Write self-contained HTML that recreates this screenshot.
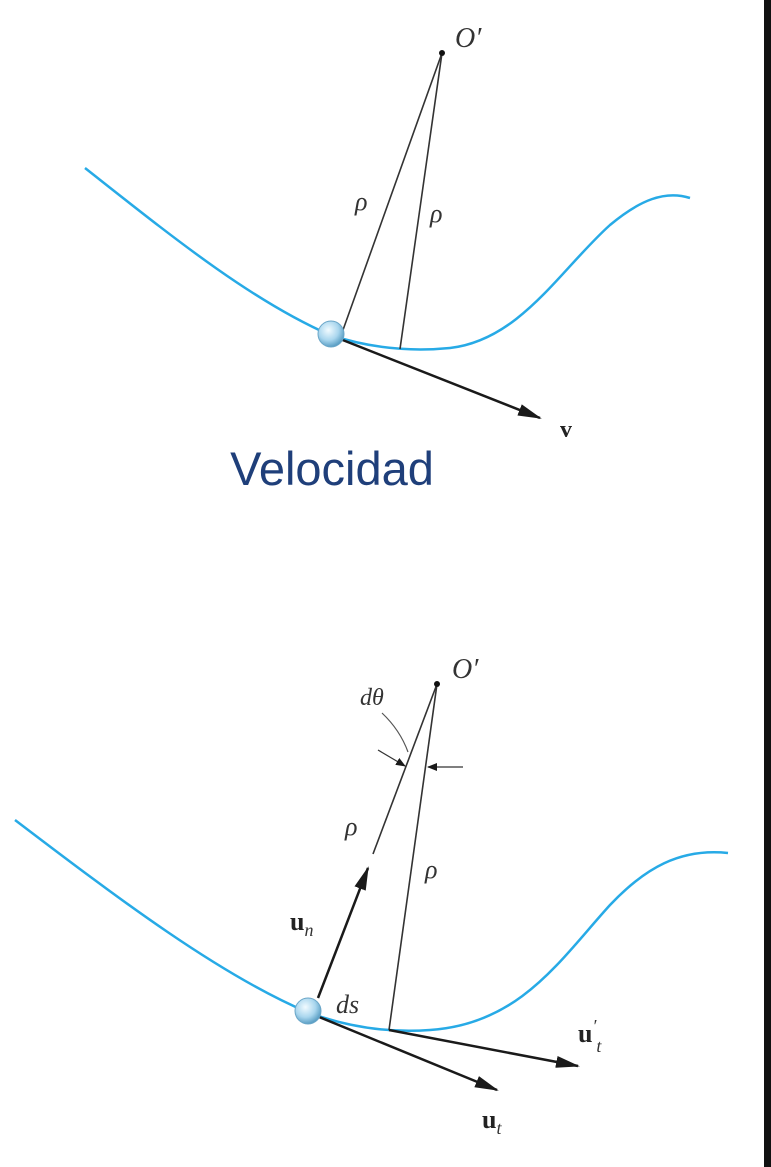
<!DOCTYPE html>
<html><head><meta charset="utf-8">
<style>
html,body{margin:0;padding:0;background:#fff;width:771px;height:1167px;overflow:hidden}
svg{display:block}
.it{font-family:"Liberation Serif",serif;font-style:italic;fill:#333}
.bd{font-family:"Liberation Serif",serif;font-weight:bold;fill:#222}
</style></head><body>
<svg width="771" height="1167" viewBox="0 0 771 1167">
<defs>
<marker id="ah" markerWidth="10" markerHeight="8" refX="9" refY="4" orient="auto" markerUnits="userSpaceOnUse" viewBox="0 0 10 8">
<path d="M0,0 L10,4 L0,8 Z" fill="#1a1a1a"/></marker>
<marker id="ahb" markerWidth="24" markerHeight="12" refX="22" refY="6" orient="auto" markerUnits="userSpaceOnUse" viewBox="0 0 24 12">
<path d="M0,0 L24,6 L0,12 Z" fill="#1a1a1a"/></marker>
<radialGradient id="ball" cx="40%" cy="35%" r="65%">
<stop offset="0" stop-color="#f2fbff"/><stop offset="0.6" stop-color="#a9d6ee"/><stop offset="1" stop-color="#5a9ec4"/></radialGradient>
</defs>
<rect x="764" y="0" width="7" height="1167" fill="#111"/>

<g>
<path d="M85,168 C170,235 250,300 330,335 C370,348 410,352 450,348 C520,340 560,270 610,225 C640,200 665,190 690,198" fill="none" stroke="#27aae6" stroke-width="2.5"/>
<line x1="442" y1="53" x2="343" y2="330" stroke="#333" stroke-width="1.6"/>
<line x1="442" y1="53" x2="400" y2="349" stroke="#333" stroke-width="1.6"/>
<circle cx="442" cy="53" r="3" fill="#111"/>
<text x="455" y="47" class="it" font-size="28">O′</text>
<text x="355" y="210" class="it" font-size="26">ρ</text>
<text x="430" y="222" class="it" font-size="26">ρ</text>
<line x1="330" y1="335" x2="540" y2="418" stroke="#1a1a1a" stroke-width="2.5" marker-end="url(#ahb)"/>
<text x="560" y="437" class="bd" font-size="24">v</text>
<circle cx="331" cy="334" r="13" fill="url(#ball)" stroke="#6aa6c8" stroke-width="1"/>
</g>
<text x="332" y="485" text-anchor="middle" font-family="Liberation Sans, sans-serif" font-size="47" fill="#1f3f7a">Velocidad</text>

<g>
<path d="M15,820 C120,900 220,975 307,1012 C350,1028 390,1033 430,1030 C520,1024 560,960 610,905 C645,868 680,848 728,853" fill="none" stroke="#27aae6" stroke-width="2.5"/>
<line x1="437" y1="684" x2="389" y2="1030" stroke="#333" stroke-width="1.6"/>
<line x1="437" y1="684" x2="373" y2="854" stroke="#333" stroke-width="1.6"/>
<circle cx="437" cy="684" r="3" fill="#111"/>
<text x="452" y="678" class="it" font-size="28">O′</text>
<text x="360" y="705" class="it" font-size="24">dθ</text>
<path d="M382,713 Q400,730 408,752" fill="none" stroke="#555" stroke-width="1.2"/>
<line x1="378" y1="750" x2="405" y2="766" stroke="#333" stroke-width="1.2" marker-end="url(#ah)"/>
<line x1="463" y1="767" x2="428" y2="767" stroke="#333" stroke-width="1.2" marker-end="url(#ah)"/>
<text x="345" y="835" class="it" font-size="26">ρ</text>
<text x="425" y="878" class="it" font-size="26">ρ</text>
<line x1="318" y1="998" x2="368" y2="868" stroke="#1a1a1a" stroke-width="2.5" marker-end="url(#ahb)"/>
<text x="290" y="930" class="bd" font-size="26">u<tspan class="it" font-weight="normal" font-size="18" dy="6">n</tspan></text>
<text x="336" y="1013" class="it" font-size="26">ds</text>
<line x1="307" y1="1012" x2="497" y2="1090" stroke="#1a1a1a" stroke-width="2.5" marker-end="url(#ahb)"/>
<text x="482" y="1128" class="bd" font-size="26">u<tspan class="it" font-weight="normal" font-size="18" dy="6">t</tspan></text>
<line x1="389" y1="1030" x2="578" y2="1066" stroke="#1a1a1a" stroke-width="2.5" marker-end="url(#ahb)"/>
<text x="578" y="1042" class="bd" font-size="26">u<tspan class="it" font-weight="normal" font-size="18" dy="-10">′</tspan><tspan class="it" font-weight="normal" font-size="18" dy="20">t</tspan></text>
<circle cx="308" cy="1011" r="13" fill="url(#ball)" stroke="#6aa6c8" stroke-width="1"/>
</g>
</svg>
</body></html>
